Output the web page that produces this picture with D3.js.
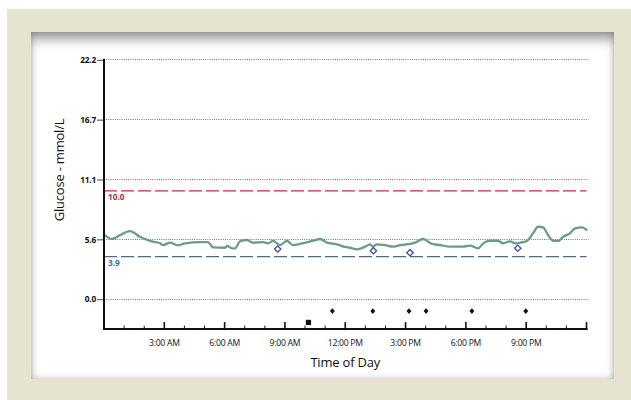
<!DOCTYPE html>
<html>
<head>
<meta charset="utf-8">
<script src="https://cdn.jsdelivr.net/npm/d3@7/dist/d3.min.js"></script>
<style>
  html, body { margin: 0; padding: 0; background: #ffffff; }
  #stage { position: relative; width: 631px; height: 400px; overflow: hidden; }
  #frame { position: absolute; left: 7px; top: 9px; width: 624px; height: 391px; background: #e6e3d0; }
  #panel {
    position: absolute; left: 31px; top: 32px; width: 583px; height: 347px; background: #ffffff;
    box-shadow: inset 0 12px 11px -4px rgba(0,0,0,0.34), inset 0 0 7px rgba(0,0,0,0.28);
  }
  svg { position: absolute; left: 0; top: 0; }
  text { font-family: "Open Sans", "Noto Sans", sans-serif; }
</style>
</head>
<body>
<div id="stage">
  <div id="frame"></div>
  <div id="panel"></div>
  <svg id="chart" width="631" height="400"></svg>
</div>
<script>
// Sensor glucose trace over one day (hours since midnight, mmol/L)
const traceHours = [0.03, 0.4, 0.8, 1.29, 1.79, 2.29, 2.79, 2.94, 3.28, 3.68, 4.03, 4.78, 5.17, 5.42,
  6.02, 6.12, 6.37, 6.52, 6.77, 7.11, 7.41, 7.91, 8.16, 8.41, 8.76, 9.1, 9.4, 9.75, 10.4, 10.75,
  11.09, 11.59, 11.99, 12.24, 12.59, 12.99, 13.23, 13.38, 13.58, 13.98, 14.38, 14.73, 15.22, 15.47,
  15.87, 16.32, 16.72, 17.21, 17.86, 18.21, 18.61, 18.86, 19.2, 19.6, 19.85, 20.2, 20.45, 20.7,
  21.04, 21.34, 21.59, 21.84, 22.09, 22.34, 22.59, 22.84, 23.18, 23.43, 23.78, 24.0];
const traceGlucose = [5.9, 5.54, 5.9, 6.28, 5.75, 5.36, 5.14, 4.98, 5.2, 4.95, 5.14, 5.26, 5.26, 4.77,
  4.73, 4.9, 4.68, 4.68, 5.33, 5.45, 5.2, 5.26, 5.14, 5.36, 4.98, 5.36, 4.98, 5.08, 5.38, 5.54,
  5.2, 5.05, 4.8, 4.73, 4.58, 4.83, 5.05, 4.83, 5.05, 4.98, 4.83, 4.98, 5.08, 5.2,
  5.54, 5.08, 4.98, 4.83, 4.83, 4.92, 4.68, 5.14, 5.38, 5.38, 5.14, 5.33, 5.14, 5.2,
  5.36, 6.07, 6.68, 6.62, 5.91, 5.38, 5.36, 5.75, 6.07, 6.53, 6.62, 6.4];

// Meter (fingerstick) readings
const meterHours = [8.64, 13.4, 15.22, 20.58];
const meterGlucose = [4.61, 4.45, 4.27, 4.68];

// Event markers along the bottom rows
const insulinHours = [11.36, 13.37, 15.17, 16.02, 18.3, 20.98];
const mealHours = [10.17];

// Target range limits
const highLimit = 10.0;
const lowLimit = 3.9;

// Axis ticks
const yTickValues = [0, 100 / 18, 200 / 18, 300 / 18, 400 / 18];
const yTickLabels = ["0.0", "5.6", "11.1", "16.7", "22.2"];
const xMajorHours = [3, 6, 9, 12, 15, 18, 21];
const xTickLabels = ["3:00 AM", "6:00 AM", "9:00 AM", "12:00 PM", "3:00 PM", "6:00 PM", "9:00 PM"];

// Rows (in glucose units below zero) for event markers
const insulinRow = -1.15;
const mealRow = -2.2;

(function drawChart() {
  const svg = d3.select("#chart");
  const plotLeft = 104, plotRight = 586.5, plotTop = 59.3, zeroY = 298.7;

  const x = d3.scaleLinear().domain([0, 24]).range([plotLeft, plotRight]);
  const y = d3.scaleLinear().domain([0, 400 / 18]).range([zeroY, plotTop]);
  const axisY = y(-2.82);

  // Dotted horizontal grid
  svg.append("g").selectAll("line").data(yTickValues).join("line")
    .attr("x1", plotLeft).attr("x2", plotRight + 2)
    .attr("y1", d => Math.round(y(d)) + 0.5).attr("y2", d => Math.round(y(d)) + 0.5)
    .attr("stroke", "#666").attr("stroke-width", 0.9).attr("stroke-dasharray", "1,1.2");

  // Left axis with short outside ticks
  const yAxis = d3.axisLeft(y).tickValues(yTickValues)
    .tickFormat((d, i) => yTickLabels[i]).tickSize(7).tickPadding(1);
  const gy = svg.append("g").attr("transform", `translate(${plotLeft},0.5)`).call(yAxis);
  gy.select(".domain").remove();
  gy.selectAll(".tick line").attr("stroke", "#333").attr("stroke-width", 0.9);
  gy.selectAll(".tick text").attr("font-size", 8.3).attr("font-weight", 700).attr("fill", "#111")
    .attr("font-family", "'Open Sans', sans-serif").attr("letter-spacing", -0.2);

  // Target limit lines
  svg.append("line").attr("x1", plotLeft).attr("x2", plotRight)
    .attr("y1", y(highLimit)).attr("y2", y(highLimit))
    .attr("stroke", "#c22f3e").attr("stroke-width", 1.2).attr("stroke-dasharray", "13,4");
  svg.append("line").attr("x1", plotLeft).attr("x2", plotRight)
    .attr("y1", y(lowLimit)).attr("y2", y(lowLimit))
    .attr("stroke", "#4f6885").attr("stroke-width", 1.2).attr("stroke-dasharray", "13,4");
  svg.append("text").attr("x", plotLeft + 4).attr("y", y(highLimit) + 9.5)
    .attr("font-size", 8.3).attr("font-weight", 700).attr("fill", "#c02a3a").text(highLimit.toFixed(1));
  svg.append("text").attr("x", plotLeft + 4).attr("y", y(lowLimit) + 9.5)
    .attr("font-size", 8.3).attr("font-weight", 700).attr("fill", "#3b6da6").text(lowLimit.toFixed(1));

  // Glucose trace
  const line = d3.line().x((d, i) => x(traceHours[i])).y(d => y(d)).curve(d3.curveMonotoneX);
  svg.append("path").datum(traceGlucose).attr("d", line)
    .attr("fill", "none").attr("stroke", "#6a9c88").attr("stroke-width", 2.3)
    .attr("stroke-linejoin", "round").attr("stroke-linecap", "round");

  // Meter readings: open diamonds (squares turned 45 degrees)
  svg.append("g").selectAll("path").data(meterHours).join("path")
    .attr("transform", (d, i) => `translate(${x(d)},${y(meterGlucose[i])}) rotate(45)`)
    .attr("d", d3.symbol(d3.symbolSquare, 20))
    .attr("fill", "#ffffff").attr("stroke", "#3d48a6").attr("stroke-width", 1.3);

  // Insulin events: filled diamonds
  svg.append("g").selectAll("path").data(insulinHours).join("path")
    .attr("transform", d => `translate(${x(d)},${y(insulinRow)}) scale(1,1.15) rotate(45)`)
    .attr("d", d3.symbol(d3.symbolSquare, 12))
    .attr("fill", "#111");

  // Meal events: filled squares
  svg.append("g").selectAll("path").data(mealHours).join("path")
    .attr("transform", d => `translate(${x(d)},${y(mealRow)})`)
    .attr("d", d3.symbol(d3.symbolSquare, 27))
    .attr("fill", "#111");

  // Bottom axis: hourly minor ticks, 3-hourly major ticks pointing up
  const hourTicks = d3.range(1, 25);
  svg.append("g").selectAll("line").data(hourTicks).join("line")
    .attr("x1", d => x(d)).attr("x2", d => x(d))
    .attr("y1", d => axisY - (d % 3 === 0 ? 7 : 3.5)).attr("y2", axisY + 1)
    .attr("stroke", "#111").attr("stroke-width", d => d % 3 === 0 ? 1.6 : 1);
  svg.append("g").selectAll("text").data(xMajorHours).join("text")
    .attr("x", d => x(d)).attr("y", axisY + 16.5).attr("text-anchor", "middle")
    .attr("font-size", 8.6).attr("fill", "#111").attr("letter-spacing", -0.25)
    .text((d, i) => xTickLabels[i]);

  // Axis lines
  svg.append("line").attr("x1", plotLeft).attr("x2", plotLeft).attr("y1", plotTop - 0.5).attr("y2", axisY + 1)
    .attr("stroke", "#111").attr("stroke-width", 2);
  svg.append("line").attr("x1", plotLeft - 1).attr("x2", plotRight + 1).attr("y1", axisY).attr("y2", axisY)
    .attr("stroke", "#111").attr("stroke-width", 2);

  // Axis titles
  svg.append("text").attr("x", (plotLeft + plotRight) / 2).attr("y", 367).attr("text-anchor", "middle")
    .attr("font-size", 13).attr("fill", "#111").attr("letter-spacing", -0.2).text("Time of Day");
  svg.append("text").attr("transform", "translate(64,170) rotate(-90)").attr("text-anchor", "middle")
    .attr("font-size", 13).attr("fill", "#111").attr("letter-spacing", -0.2).text("Glucose - mmol/L");
})();
</script>
</body>
</html>
